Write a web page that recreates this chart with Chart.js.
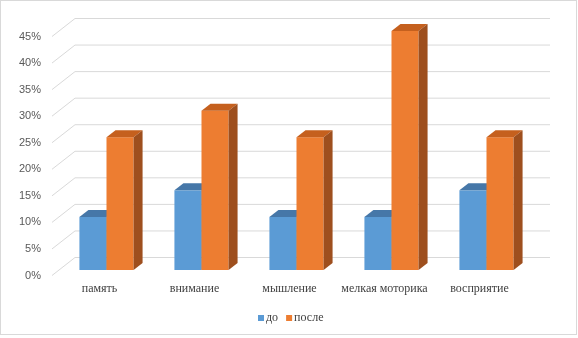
<!DOCTYPE html>
<html>
<head>
<meta charset="utf-8">
<script src="https://cdn.jsdelivr.net/npm/chart.js@4.4.1/dist/chart.umd.min.js"></script>
<style>
  html, body { margin: 0; padding: 0; background: #fff; }
</style>
</head>
<body>
<canvas id="chart" width="578" height="338"></canvas>
<script>
// data
var categories = ["память", "внимание", "мышление", "мелкая моторика", "восприятие"];
var seriesNames = ["до", "после"];
var before = [10, 15, 10, 10, 15];
var after = [25, 30, 25, 45, 25];
var yTicks = [0, 5, 10, 15, 20, 25, 30, 35, 40, 45];

var frontColors = ["#5B9BD5", "#ED7D31"];
var topColors = ["#4677A8", "#C5601E"];
var sideColors = ["#3F6D99", "#9E4F1E"];

// 3d offsets (pixels)
var BAR_DX = 9, BAR_DY = -7;     // bar depth
var BACK_DX = 16, BACK_DY = -12.5;  // bar plane -> back wall
var FRONT_DX = -7, FRONT_DY = 5.5;  // bar plane -> front edge

var fake3d = {
  id: "fake3d",
  beforeDraw: function(chart) {
    var c = chart.ctx;
    c.save();
    c.fillStyle = "#fff";
    c.fillRect(0, 0, chart.width, chart.height);
    c.strokeStyle = "#D9D9D9";
    c.lineWidth = 1;
    c.strokeRect(0.5, 0.5, 576, 334);
    c.restore();
  },
  beforeDatasetsDraw: function(chart) {
    var c = chart.ctx;
    var area = chart.chartArea;
    var yScale = chart.scales.y;
    c.save();
    // back wall grid and side wall diagonals
    c.strokeStyle = "#D9D9D9";
    c.lineWidth = 1;
    yTicks.forEach(function(v) {
      var y = yScale.getPixelForValue(v);
      c.beginPath();
      c.moveTo(area.left + FRONT_DX, y + FRONT_DY);
      c.lineTo(area.left + BACK_DX, y + BACK_DY);
      c.lineTo(area.right + BACK_DX, y + BACK_DY);
      c.stroke();
    });
    // bars
    chart.data.datasets.forEach(function(ds, di) {
      var meta = chart.getDatasetMeta(di);
      meta.data.forEach(function(bar) {
        var p = bar.getProps(["x", "y", "base", "width"], true);
        var l = p.x - p.width / 2, r = p.x + p.width / 2;
        var t = p.y, b = p.base;
        c.fillStyle = frontColors[di];
        c.fillRect(l, t, r - l, b - t);
        c.fillStyle = topColors[di];
        c.beginPath();
        c.moveTo(l, t);
        c.lineTo(l + BAR_DX, t + BAR_DY);
        c.lineTo(r + BAR_DX, t + BAR_DY);
        c.lineTo(r, t);
        c.closePath();
        c.fill();
        c.fillStyle = sideColors[di];
        c.beginPath();
        c.moveTo(r, t);
        c.lineTo(r + BAR_DX, t + BAR_DY);
        c.lineTo(r + BAR_DX, b + BAR_DY);
        c.lineTo(r, b);
        c.closePath();
        c.fill();
      });
    });
    c.restore();
    return false;
  },
  afterDraw: function(chart) {
    // legend, tight like the office one
    var c = chart.ctx;
    c.save();
    c.font = "12px 'Liberation Serif'";
    c.textBaseline = "middle";
    c.textAlign = "left";
    var x = 258, y = 318;
    chart.data.datasets.forEach(function(ds, di) {
      c.fillStyle = frontColors[di];
      c.fillRect(x, y - 3, 6, 6);
      c.fillStyle = "#404040";
      c.fillText(ds.label, x + 8, y);
      x += 8 + c.measureText(ds.label).width + 8;
    });
    c.restore();
  }
};

var config = {
  type: "bar",
  data: {
    labels: categories,
    datasets: [
      { label: seriesNames[0], data: before, backgroundColor: frontColors[0] },
      { label: seriesNames[1], data: after, backgroundColor: frontColors[1] }
    ]
  },
  options: {
    responsive: false,
    animation: false,
    layout: { padding: { left: 0, right: 44, top: 31, bottom: 38 } },
    datasets: {
      bar: { categoryPercentage: 0.57, barPercentage: 1 }
    },
    plugins: {
      legend: { display: false },
      tooltip: { enabled: false }
    },
    scales: {
      x: {
        grid: { display: false, drawTicks: false },
        border: { display: false },
        ticks: {
          color: "#404040",
          padding: 12,
          labelOffset: FRONT_DX,
          maxRotation: 0,
          autoSkip: false,
          font: { family: "Liberation Serif", size: 12 }
        },
        afterFit: function(scale) { scale.height = 30; }
      },
      y: {
        min: 0,
        max: 45,
        grid: { display: false, drawTicks: false },
        border: { display: false },
        ticks: {
          stepSize: 5,
          padding: 18,
          labelOffset: FRONT_DY,
          color: "#595959",
          font: { family: "Liberation Sans", size: 11 },
          callback: function(v) { return v + "%"; }
        },
        afterFit: function(scale) { scale.width = 59; }
      }
    }
  },
  plugins: [fake3d]
};

var ctx = document.getElementById("chart").getContext("2d");
window.barChart = new Chart(ctx, config);
</script>
</body>
</html>
